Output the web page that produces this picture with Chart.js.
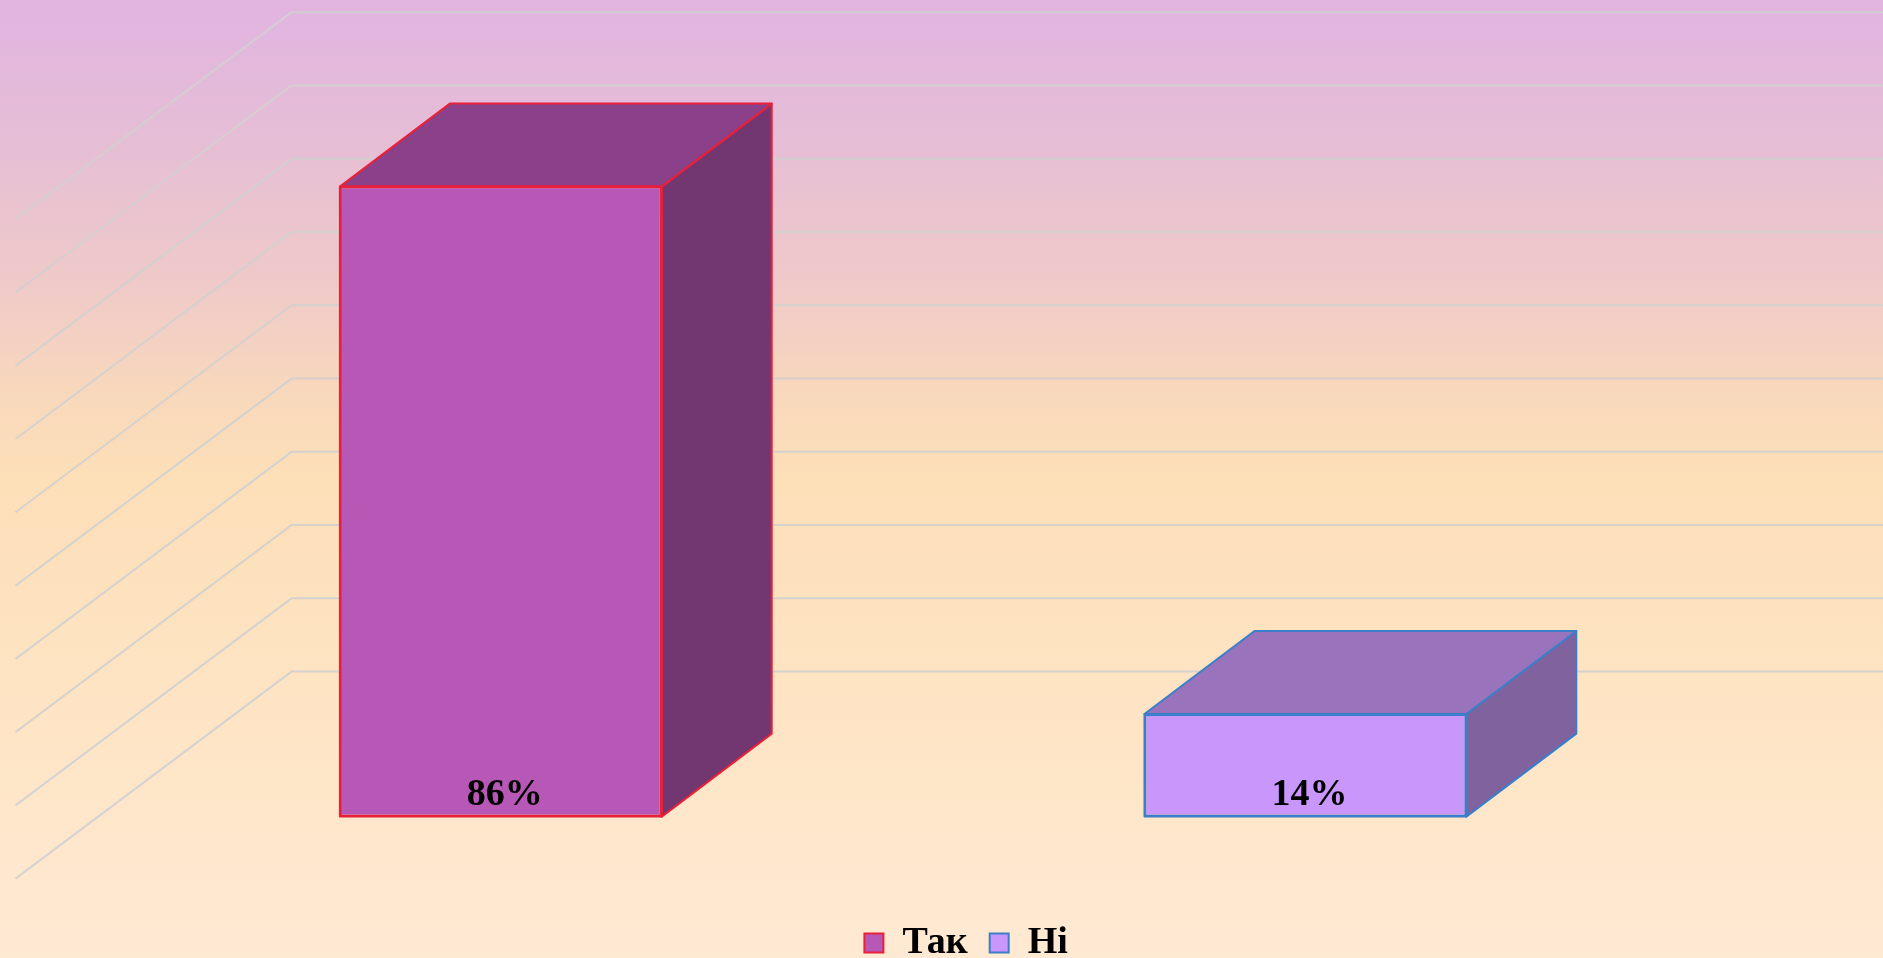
<!DOCTYPE html>
<html lang="uk">
<head>
<meta charset="utf-8">
<title>Так / Ні</title>
<script src="https://cdn.jsdelivr.net/npm/chart.js@4.4.1/dist/chart.umd.min.js"></script>
<style>
  html, body { margin: 0; padding: 0; overflow: hidden; }
  #wrap { width: 1883px; height: 958px; position: relative; }
</style>
</head>
<body>
<div id="wrap"><canvas id="chart"></canvas></div>
<script>
// Дані
const categories = ['Так', 'Ні'];
const values = [86, 14];
const axisMax = 90;
const axisStep = 10;

// Кольори граней
const frontColors = ['#b757b6', '#c997fc'];
const topColors = ['#8a4189', '#9a73bd'];
const sideColors = ['#723671', '#7f629e'];
const edgeColors = ['#e8203a', '#3a7fc8'];

// Зсуви глибини (3D)
const barDepth = { dx: 110, dy: -83 };
const wallBack = { dx: 193, dy: -145 };
const wallFront = { dx: -83, dy: 62 };

const serif = '"Liberation Serif", "Times New Roman", serif';

const background3d = {
  id: 'background3d',
  beforeDraw(chart) {
    const { ctx, width, height } = chart;
    const g = ctx.createLinearGradient(0, 0, 0, height);
    g.addColorStop(0, '#e1b4e1');
    g.addColorStop(0.15, '#e6bed5');
    g.addColorStop(0.3, '#efcac8');
    g.addColorStop(0.42, '#f9d9bb');
    g.addColorStop(0.5, '#fddfb8');
    g.addColorStop(0.72, '#fee4c3');
    g.addColorStop(1, '#fee9d3');
    ctx.save();
    ctx.fillStyle = g;
    ctx.fillRect(0, 0, width, height);
    ctx.restore();
  },
  afterLayout(chart) {
    // легенда трохи правіше центру, як в оригіналі
    chart.legend.left += 63;
    chart.legend.right += 63;
  },
  beforeDatasetsDraw(chart) {
    const { ctx, chartArea, width } = chart;
    const y = chart.scales.y;
    const ticks = y.ticks.length ? y.ticks.map(t => t.value) : [];
    const bx = chartArea.left + wallBack.dx;
    ctx.save();
    ctx.strokeStyle = 'rgba(208,208,208,0.9)';
    ctx.lineWidth = 2;
    ticks.forEach(v => {
      const py = y.getPixelForValue(v);
      ctx.beginPath();
      ctx.moveTo(chartArea.left + wallFront.dx, py + wallFront.dy);
      ctx.lineTo(bx, py + wallBack.dy);
      ctx.lineTo(width, py + wallBack.dy);
      ctx.stroke();
    });
    ctx.restore();
  },
  afterDatasetsDraw(chart) {
    const { ctx } = chart;
    const meta = chart.getDatasetMeta(0);
    ctx.save();
    ctx.lineJoin = 'round';
    meta.data.forEach((bar, i) => {
      const { x, y, base, width } = bar.getProps(['x', 'y', 'base', 'width'], true);
      const l = x - width / 2, r = x + width / 2;
      const { dx, dy } = barDepth;
      ctx.strokeStyle = edgeColors[i];
      ctx.lineWidth = 2;
      // бічна грань
      ctx.beginPath();
      ctx.moveTo(r, y);
      ctx.lineTo(r + dx, y + dy);
      ctx.lineTo(r + dx, base + dy);
      ctx.lineTo(r, base);
      ctx.closePath();
      ctx.fillStyle = sideColors[i];
      ctx.fill();
      ctx.stroke();
      // верхня грань
      ctx.beginPath();
      ctx.moveTo(l, y);
      ctx.lineTo(l + dx, y + dy);
      ctx.lineTo(r + dx, y + dy);
      ctx.lineTo(r, y);
      ctx.closePath();
      ctx.fillStyle = topColors[i];
      ctx.fill();
      ctx.stroke();
      // передня рамка ще раз поверх
      ctx.strokeRect(l, y, width, base - y);
      // підпис
      ctx.fillStyle = '#000';
      ctx.font = 'bold 38px ' + serif;
      ctx.textAlign = 'center';
      ctx.textBaseline = 'alphabetic';
      ctx.fillText(values[i] + '%', x + 4, base - 12);
    });
    ctx.restore();
  }
};

new Chart(document.getElementById('chart'), {
  type: 'bar',
  data: {
    labels: categories,
    datasets: [{
      label: 'Відповіді',
      data: values,
      backgroundColor: frontColors,
      borderColor: edgeColors,
      borderWidth: 2,
      borderSkipped: false,
      barPercentage: 0.4,
      categoryPercentage: 1
    }]
  },
  options: {
    responsive: true,
    maintainAspectRatio: false,
    animation: false,
    layout: {
      padding: { left: 98.5, right: 175.3, top: 157.3, bottom: -14 }
    },
    plugins: {
      tooltip: { enabled: false },
      legend: {
        position: 'bottom',
        title: {
          display: true,
          text: '',
          font: { size: 10 },
          padding: { top: 73.4, bottom: 0 }
        },
        labels: {
          color: '#000',
          font: { family: serif, size: 38, weight: 'bold' },
          boxWidth: 19,
          boxHeight: 19,
          padding: 22,
          generateLabels(chart) {
            return chart.data.labels.map((label, i) => ({
              text: label,
              fillStyle: frontColors[i],
              strokeStyle: edgeColors[i],
              lineWidth: 2,
              fontColor: '#000',
              datasetIndex: 0,
              index: i
            }));
          }
        }
      }
    },
    scales: {
      x: { display: false },
      y: {
        display: false,
        min: 0,
        max: axisMax,
        ticks: { stepSize: axisStep }
      }
    }
  },
  plugins: [background3d]
});
</script>
</body>
</html>
